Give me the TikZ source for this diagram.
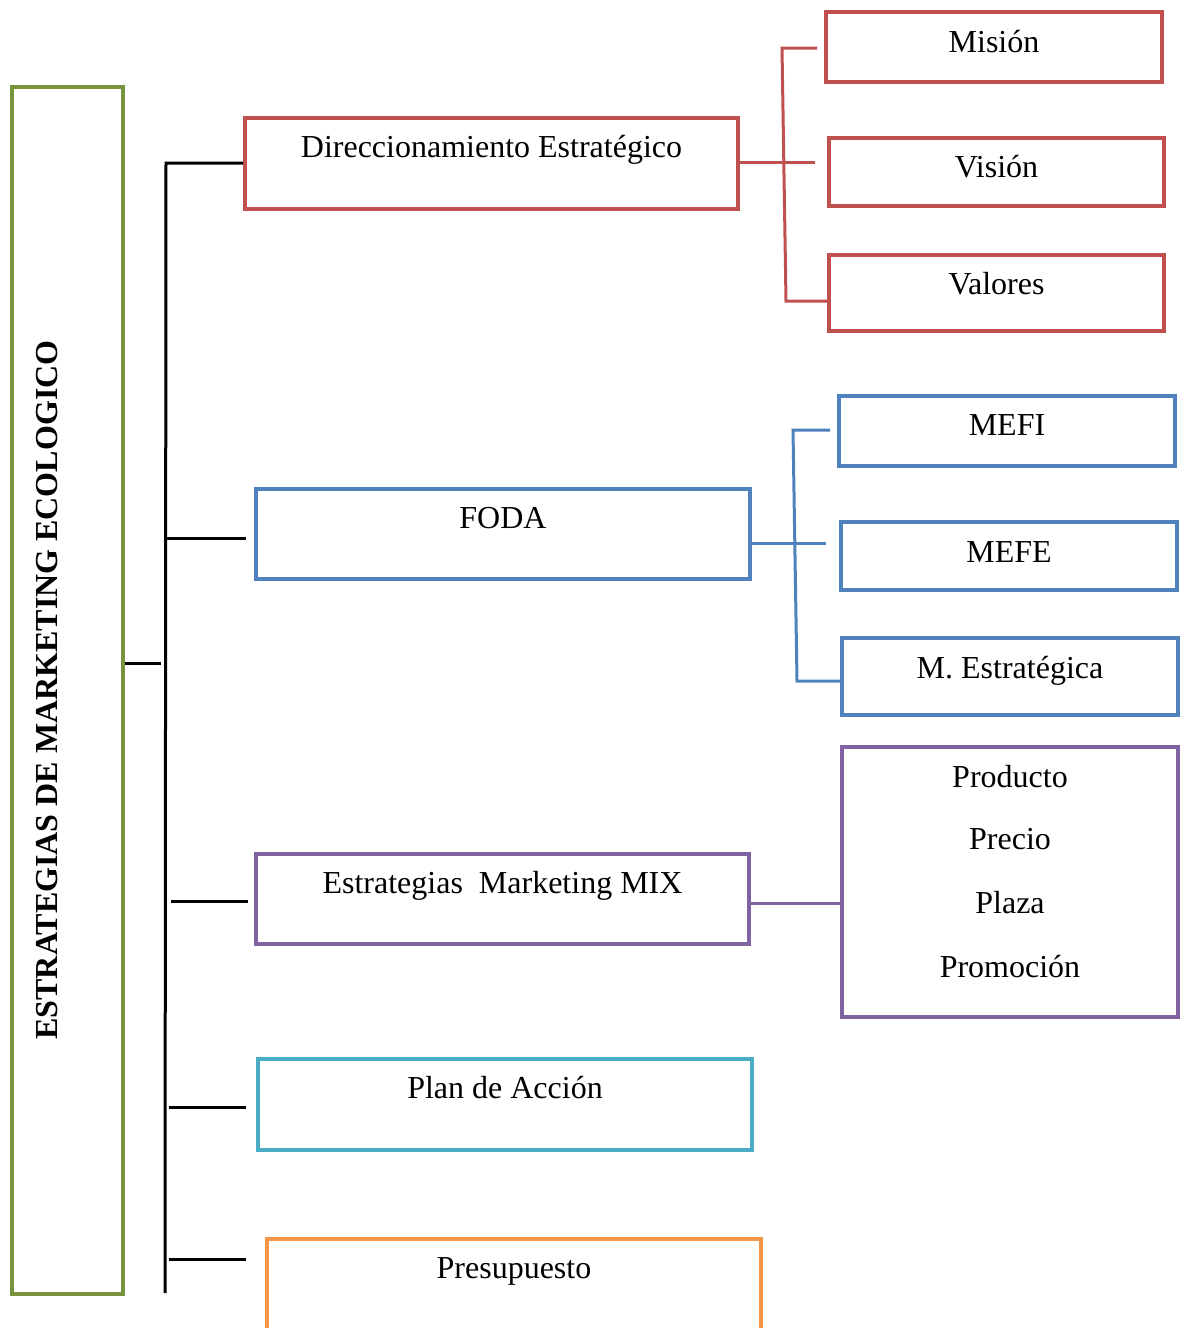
\documentclass[tikz,border=0pt]{standalone}
\usepackage{fontspec}
\setmainfont{Liberation Serif}
\definecolor{cred}{HTML}{C0504D}
\definecolor{cblue}{HTML}{4F81BD}
\definecolor{cpurple}{HTML}{8064A2}
\definecolor{ccyan}{HTML}{4BACC6}
\definecolor{corange}{HTML}{F79646}
\definecolor{cgreen}{HTML}{77933C}
\begin{document}
\begin{tikzpicture}[x=1pt,y=-1pt,
  box/.style={draw=#1, line width=4pt, rectangle, inner sep=0pt},
  txt/.style={anchor=base, inner sep=0pt, font=\fontsize{32}{38}\selectfont},
  blk/.style={draw=black, line width=3pt},
  con/.style={draw=#1, line width=3pt}]
\useasboundingbox (0,0) rectangle (1184,1328);
% main vertical box
\node[box=cgreen, minimum width=111pt, minimum height=1207pt] (green) at (67.5,690.5) {};
\node[anchor=base, inner sep=0pt, rotate=90, font=\fontsize{32}{38}\selectfont\bfseries] (title) at (57,690) {ESTRATEGIAS DE MARKETING ECOLOGICO};
% level 1 boxes
\node[box=cred, minimum width=493pt, minimum height=91pt] (dir) at (491.5,163.5) {};
\node[txt] (dirt) at (491.5,157) {Direccionamiento Estratégico};
\node[box=cblue, minimum width=494pt, minimum height=90pt] (foda) at (503,534) {};
\node[txt] (fodat) at (503,528) {FODA};
\node[box=cpurple, minimum width=493pt, minimum height=90pt] (mix) at (502.5,899) {};
\node[txt] (mixt) at (502.5,893) {Estrategias\ \ Marketing MIX};
\node[box=ccyan, minimum width=494pt, minimum height=91pt] (plan) at (505,1104.5) {};
\node[txt] (plant) at (505,1098) {Plan de Acción};
\node[box=corange, minimum width=494pt, minimum height=121pt] (pres) at (514,1299.5) {};
\node[txt] (prest) at (514,1278) {Presupuesto};
% level 2 boxes
\node[box=cred, minimum width=336pt, minimum height=70pt] (mision) at (994,47) {};
\node[txt] (misiont) at (994,52) {Misión};
\node[box=cred, minimum width=335pt, minimum height=68pt] (vision) at (996.5,172) {};
\node[txt] (visiont) at (996.5,177) {Visión};
\node[box=cred, minimum width=335pt, minimum height=76pt] (valores) at (996.5,293) {};
\node[txt] (valorest) at (996.5,294) {Valores};
\node[box=cblue, minimum width=336pt, minimum height=70pt] (mefi) at (1007,431) {};
\node[txt] (mefit) at (1007,435) {MEFI};
\node[box=cblue, minimum width=336pt, minimum height=68pt] (mefe) at (1009,556) {};
\node[txt] (mefet) at (1009,562) {MEFE};
\node[box=cblue, minimum width=336pt, minimum height=77pt] (mest) at (1010,676.5) {};
\node[txt] (mestt) at (1010,678) {M. Estratégica};
\node[box=cpurple, minimum width=336pt, minimum height=270pt] (mixl) at (1010,882) {};
\node[txt] (p1) at (1010,787) {Producto};
\node[txt] (p2) at (1010,849) {Precio};
\node[txt] (p3) at (1010,913) {Plaza};
\node[txt] (p4) at (1010,977) {Promoción};
% trunk
\coordinate (ttop) at (166,163);
\coordinate (tbot) at (165,1293);
\coordinate (gmid) at (161,663);
\draw[blk] (green.east |- gmid) -- (gmid);
\draw[blk] (tbot) -- (ttop) -- (dir.west |- ttop);
\coordinate (fa) at (166,538); \coordinate (fb) at (246,538);
\draw[blk] (fa) -- (fb);
\coordinate (ma) at (171,901); \coordinate (mb) at (248,901);
\draw[blk] (ma) -- (mb);
\coordinate (pa) at (169,1107); \coordinate (pb) at (246,1107);
\draw[blk] (pa) -- (pb);
\coordinate (ra) at (169,1259); \coordinate (rb) at (246,1259);
\draw[blk] (ra) -- (rb);
% red connectors
\coordinate (rmid) at (815,162);
\coordinate (rtop) at (782,48);
\coordinate (rbot) at (786,301);
\coordinate (rtopend) at (817,48);
\draw[con=cred] (dir.east |- rmid) -- (rmid);
\draw[con=cred] (rtopend) -- (rtop) -- (rbot) -- (valores.west |- rbot);
% blue connectors
\coordinate (bmid) at (826,543);
\coordinate (btop) at (793,430);
\coordinate (bbot) at (797,681);
\coordinate (btopend) at (830,430);
\draw[con=cblue] (foda.east |- bmid) -- (bmid);
\draw[con=cblue] (btopend) -- (btop) -- (bbot) -- (mest.west |- bbot);
% purple connector
\coordinate (pmid) at (751,903);
\draw[con=cpurple] (pmid) -- (mixl.west |- pmid);
\end{tikzpicture}
\end{document}
